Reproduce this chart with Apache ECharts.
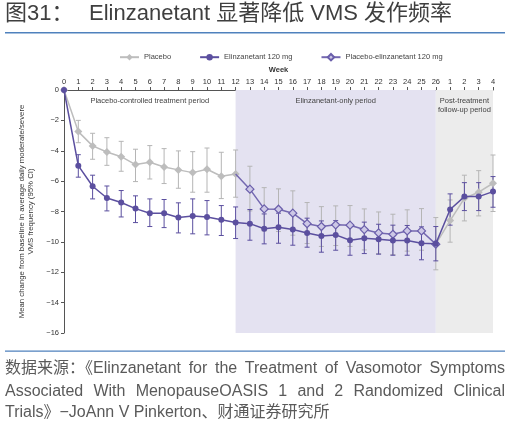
<!DOCTYPE html>
<html>
<head>
<meta charset="utf-8">
<script src="https://cdn.jsdelivr.net/npm/echarts@6/dist/echarts.min.js"></script>
<style>html,body{margin:0;padding:0;background:#fff;}#c{width:510px;height:426px;}</style>
</head>
<body>
<div id="c"></div>
<script>
// ---- data ----
var weekLabels = ['0','1','2','3','4','5','6','7','8','9','10','11','12','13','14','15','16','17','18','19','20','21','22','23','24','25','26','1','2','3','4'];
var placebo = [0,-2.74,-3.68,-4.08,-4.39,-4.91,-4.76,-5.07,-5.26,-5.44,-5.22,-5.68,-5.53,null,null,null,null,null,null,null,null,null,null,null,null,null,-10.15,-8.6,-7.13,-6.73,-6.14];
var placeboUpper = [null,-2.0,-2.85,-3.14,-3.38,-3.9,-3.66,-3.86,-4.01,-4.06,-3.82,-4.1,-3.95,null,null,null,null,null,null,null,null,null,null,null,null,null,null,-7.24,-5.61,-5.31,-4.28];
var placeboLower = [null,-3.47,-4.56,-4.96,-5.35,-6.03,-5.86,-6.16,-6.47,-6.73,-6.73,-7.15,-7.06,null,null,null,null,null,null,null,null,null,null,null,null,null,null,-10.02,-8.62,-8.29,-8.0];
var elinz = [0,-4.98,-6.34,-7.11,-7.41,-7.81,-8.11,-8.11,-8.40,-8.29,-8.36,-8.55,-8.73,-8.80,-9.14,-9.03,-9.19,-9.41,-9.61,-9.54,-9.89,-9.76,-9.82,-9.91,-9.91,-10.09,-10.13,-7.87,-7.02,-7.02,-6.69];
var elinzUpper = [null,-4.26,-5.61,-6.32,-6.62,-6.97,-7.17,-7.21,-7.43,-7.17,-7.28,-7.61,-7.70,-7.87,-8.16,-8.11,-8.16,-8.44,-8.62,-8.60,-8.90,-8.70,-8.84,-8.90,-8.92,-9.01,-8.99,-6.84,-6.10,-6.10,-5.70];
var elinzLower = [null,-5.74,-7.17,-7.96,-8.36,-8.73,-8.99,-9.06,-9.41,-9.47,-9.54,-9.58,-9.78,-9.89,-10.13,-10.09,-10.22,-10.35,-10.68,-10.55,-10.88,-10.77,-10.81,-10.88,-10.88,-11.18,-11.25,-8.90,-7.94,-7.94,-7.72];
var switchStart = 12;
var switchVals = [-5.53,-6.53,-7.83,-7.85,-8.11,-8.80,-8.99,-8.88,-8.90,-9.19,-9.41,-9.50,-9.28,-9.28,-10.15];
var switchUpper = [null,-5.02,-6.43,-6.51,-6.64,-7.41,-7.68,-7.63,-7.61,-7.83,-8.03,-8.18,-7.89,-7.81,-8.40];
var switchLower = [null,-7.96,-9.28,-9.32,-9.56,-10.11,-10.30,-10.24,-10.30,-10.53,-10.77,-10.84,-10.61,-10.55,-11.84];
var yTicks = {min:-16, max:0, interval:2};
var seriesNames = ['Placebo','Elinzanetant 120 mg','Placebo-elinzanetant 120 mg'];
var periods = [
  {name:'Placebo-controlled treatment period', from:0, to:12},
  {name:'Elinzanetant-only period', from:12, to:26},
  {name:'Post-treatment\nfollow-up period', from:26, to:30}
];
var titleLeft = '图31：';
var titleMain = 'Elinzanetant 显著降低 VMS 发作频率';
var footerLines = [
  '数据来源：《Elinzanetant for the Treatment of Vasomotor Symptoms',
  'Associated With MenopauseOASIS 1 and 2 Randomized Clinical',
  'Trials》−JoAnn V Pinkerton、财通证券研究所'
];

// ---- build ----
var FONT = '"Liberation Sans", Arial, "Noto Sans CJK SC", sans-serif';
var cPurple = '#5b4f9f', cGrey = '#bdbdbd', cLav = '#7468b0';

function toPairs(arr){ return arr.map(function(v,i){ return [i, v]; }); }
function errData(up, lo, offset){
  var out = [];
  for (var i=0;i<up.length;i++){ if (up[i]!=null && lo[i]!=null) out.push([i+(offset||0), lo[i], up[i]]); }
  return out;
}
function errSeries(data, color){
  return {
    type:'custom', silent:true, z:1,
    renderItem:function(params, api){
      var x = api.value(0);
      var p1 = api.coord([x, api.value(2)]);
      var p2 = api.coord([x, api.value(1)]);
      var w = 2.5;
      var st = {stroke:color, lineWidth:1};
      return {type:'group', children:[
        {type:'line', shape:{x1:p1[0],y1:p1[1],x2:p2[0],y2:p2[1]}, style:st},
        {type:'line', shape:{x1:p1[0]-w,y1:p1[1],x2:p1[0]+w,y2:p1[1]}, style:st},
        {type:'line', shape:{x1:p2[0]-w,y1:p2[1],x2:p2[0]+w,y2:p2[1]}, style:st}
      ]};
    },
    encode:{x:0, y:[1,2]},
    data:data
  };
}

var placeboData = placebo.map(function(v,i){
  if (i===26) return {value:[i,v], symbol:'none'};
  return [i, v];
});
var switchData = switchVals.map(function(v,i){
  if (i===0) return {value:[i+switchStart, v], symbol:'none'};
  return [i+switchStart, v];
});

// footer layout with justification
var cv = document.createElement('canvas').getContext('2d');
var footFont = '16px ' + FONT;
cv.font = footFont;
var graphics = [
  {type:'text', left:5, top:3, style:{text:titleLeft, font:'22px ' + FONT, fill:'#3f3f3f'}},
  {type:'text', left:89, top:3, style:{text:titleMain, font:'22px ' + FONT, fill:'#3f3f3f'}},
  {type:'rect', shape:{x:5,y:32,width:500,height:1.5}, style:{fill:'#4f81bd'}},
  {type:'rect', shape:{x:5,y:350.5,width:500,height:1.2}, style:{fill:'#4f81bd'}}
];
var footY = [369, 391.5, 413];
footerLines.forEach(function(line, li){
  if (li === footerLines.length-1){
    graphics.push({type:'text', x:5, y:footY[li], style:{text:line, font:footFont, fill:'#5a5a5a', textVerticalAlign:'middle', textAlign:'left'}});
    return;
  }
  var words = line.split(' ');
  var widths = words.map(function(w){ return cv.measureText(w).width; });
  var total = widths.reduce(function(a,b){return a+b;},0);
  var gap = (500 - total) / (words.length-1);
  var x = 5;
  words.forEach(function(w,wi){
    graphics.push({type:'text', x:x, y:footY[li], style:{text:w, font:footFont, fill:'#5a5a5a', textVerticalAlign:'middle', textAlign:'left'}});
    x += widths[wi] + gap;
  });
});

var markAreaData = periods.map(function(p,i){
  return [{xAxis:p.from, itemStyle:{color:['rgba(0,0,0,0)','#e4e2f1','#ececec'][i]},
           label:{show:true, position:'insideTop', distance:6, formatter:p.name, color:'#444', fontSize:7.5, fontFamily:FONT, lineHeight:9}},
          {xAxis:p.to}];
});

var option = {
  animation:false,
  backgroundColor:'#fff',
  textStyle:{fontFamily:FONT},
  graphic:graphics,
  legend:{
    left:114, top:48, itemWidth:19, itemHeight:8, itemGap:28,
    textStyle:{fontSize:7.5, color:'#444', fontFamily:FONT},
    data:seriesNames
  },
  grid:{left:64, right:17, top:90, bottom:93, containLabel:false},
  xAxis:{
    type:'value', position:'top', min:0, max:30, interval:1,
    name:'Week', nameLocation:'middle', nameGap:14,
    nameTextStyle:{fontSize:7.5, color:'#333', fontWeight:'bold', fontFamily:FONT},
    axisLine:{onZero:false, lineStyle:{color:'#555', width:1}},
    axisTick:{show:true, length:3, lineStyle:{color:'#555'}},
    axisLabel:{fontSize:7.5, color:'#333', margin:4, formatter:function(v){ return weekLabels[v]; }},
    splitLine:{show:false}
  },
  yAxis:{
    type:'value', min:yTicks.min, max:yTicks.max, interval:yTicks.interval,
    name:'Mean change from baseline in average daily moderate/severe\nVMS frequency (95% CI)',
    nameLocation:'middle', nameGap:21, nameRotate:90,
    nameTextStyle:{fontSize:7.8, color:'#333', lineHeight:9, fontFamily:FONT},
    axisLine:{show:true, onZero:false, lineStyle:{color:'#555', width:1}},
    axisTick:{show:true, length:3, lineStyle:{color:'#555'}},
    axisLabel:{fontSize:7.5, color:'#333', margin:5, formatter:function(v){ return v===0 ? '0' : '\u2212' + Math.abs(v); }},
    splitLine:{show:false}
  },
  series:[
    {type:'line', name:'_bg', data:[], silent:true, markArea:{silent:true, data:markAreaData}, z:0},
    errSeries(errData(placeboUpper, placeboLower, 0), '#b5b5b5'),
    errSeries(errData(switchUpper, switchLower, switchStart), '#b5b5b5'),
    errSeries(errData(elinzUpper, elinzLower, 0), cPurple),
    {type:'line', name:seriesNames[0], data:placeboData, symbol:'diamond', symbolSize:8,
     lineStyle:{color:cGrey, width:1.5}, itemStyle:{color:cGrey}, z:3, connectNulls:false},
    {type:'line', name:seriesNames[2], data:switchData, symbol:'diamond', symbolSize:8,
     lineStyle:{color:cLav, width:1.5}, itemStyle:{color:'#cdc8e6', borderColor:'#6a5eab', borderWidth:1.2}, z:4},
    {type:'line', name:seriesNames[1], data:toPairs(elinz), symbol:'circle', symbolSize:6,
     lineStyle:{color:cPurple, width:1.5}, itemStyle:{color:cPurple}, z:5}
  ]
};
var chart = echarts.init(document.getElementById('c'));
chart.setOption(option);
</script>
</body>
</html>
